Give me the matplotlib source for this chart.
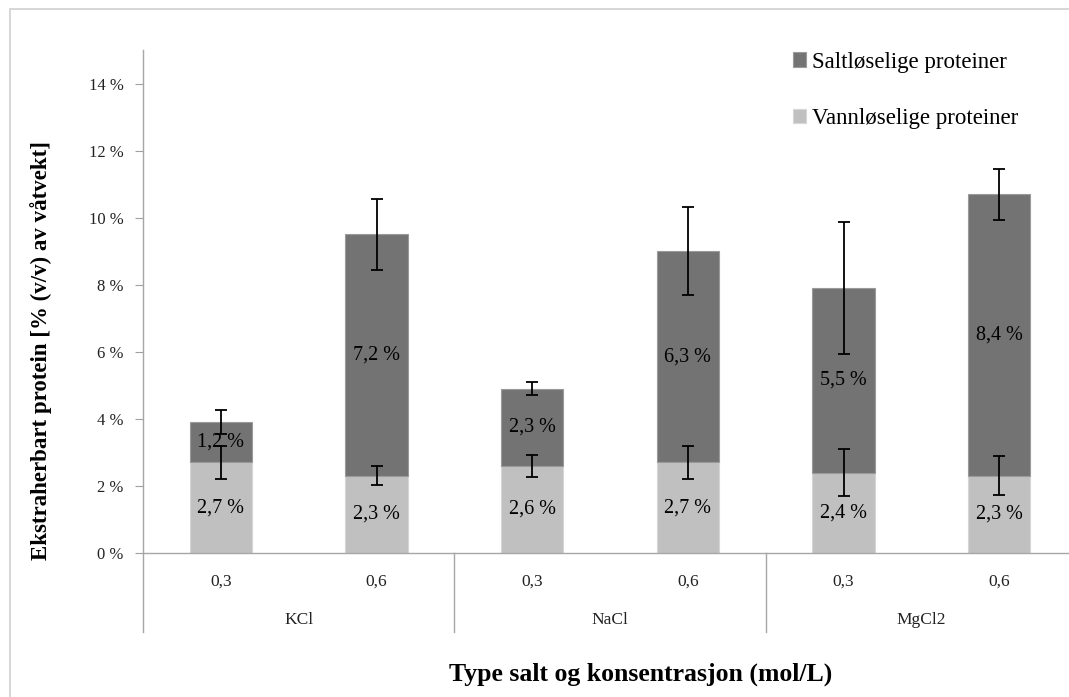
import matplotlib
matplotlib.use("Agg")
import matplotlib.pyplot as plt
from matplotlib.patches import Rectangle
import matplotlib.transforms as mtransforms

plt.rcParams['font.family'] = ['Liberation Serif', 'DejaVu Serif']

groups = ["KCl", "NaCl", "MgCl2"]
concentrations = ["0,3", "0,6"]
vann = [2.7, 2.3, 2.6, 2.7, 2.4, 2.3]
salt = [1.2, 7.2, 2.3, 6.3, 5.5, 8.4]
vann_err = [0.48, 0.28, 0.32, 0.49, 0.69, 0.58]
salt_err = [0.36, 1.07, 0.20, 1.32, 1.98, 0.76]
vann_labels = ["2,7 %", "2,3 %", "2,6 %", "2,7 %", "2,4 %", "2,3 %"]
salt_labels = ["1,2 %", "7,2 %", "2,3 %", "6,3 %", "5,5 %", "8,4 %"]
yticks = [0, 2, 4, 6, 8, 10, 12, 14]

W, H = 1069, 697
fig = plt.figure(figsize=(W / 100, H / 100), dpi=100)
fig.patch.set_facecolor("white")
# outer chart border
fig.patches.append(Rectangle((10 / W, -0.1), 1.2, (H - 9) / H + 0.1, transform=fig.transFigure,
                             fill=False, edgecolor="#d0d0d0", linewidth=1.2))

ax_left, ax_right, ax_top, ax_bottom = 143, 1077, 50, 553
ax = fig.add_axes([ax_left / W, (H - ax_bottom) / H, (ax_right - ax_left) / W, (ax_bottom - ax_top) / H])

x = list(range(len(vann)))
dark = "#737373"
light = "#c0c0c0"
ax.bar(x, vann, width=0.4, color=light, edgecolor="#d6d6d6", linewidth=0.8, label="Vannløselige proteiner", zorder=2)
ax.bar(x, salt, width=0.4, bottom=vann, color=dark, edgecolor="#9a9a9a", linewidth=0.8, label="Saltløselige proteiner", zorder=2)

tops = [v + s for v, s in zip(vann, salt)]
ax.errorbar(x, vann, yerr=vann_err, fmt="none", ecolor="black", elinewidth=1.3, capsize=4, capthick=1.3, zorder=4)
ax.errorbar(x, tops, yerr=salt_err, fmt="none", ecolor="black", elinewidth=1.3, capsize=4, capthick=1.3, zorder=4)

for xi, v, s, lv, ls in zip(x, vann, salt, vann_labels, salt_labels):
    ax.text(xi, v / 2, lv, ha="center", va="center", fontsize=14.5, color="black", zorder=5)
    ax.text(xi, v + s / 2, ls, ha="center", va="center", fontsize=14.5, color="black", zorder=5)

ax.set_xlim(-0.5, len(vann) - 0.5)
ax.set_ylim(0, 15)
ax.set_yticks(yticks)
ax.set_yticklabels([f"{t} %" for t in yticks], fontsize=12, color="#222222")
ax.set_xticks(x)
ax.set_xticklabels(concentrations * len(groups), fontsize=12.5, color="#222222")
ax.tick_params(axis="x", length=0, pad=15)
ax.tick_params(axis="y", length=6, color="#a0a0a0", pad=8)

for side in ["top", "right"]:
    ax.spines[side].set_visible(False)
for side in ["left", "bottom"]:
    ax.spines[side].set_color("#a6a6a6")
    ax.spines[side].set_linewidth(1.0)

trans = mtransforms.blended_transform_factory(ax.transData, ax.transAxes)
sep_depth = -(632 - ax_bottom) / (ax_bottom - ax_top)
for gi in range(len(groups) + 1):
    xs = gi * 2 - 0.5
    ax.plot([xs, xs], [0, sep_depth], transform=trans, color="#a6a6a6", lw=1.0, clip_on=False)
for gi, g in enumerate(groups):
    ax.text(gi * 2 + 0.5, -(620 - ax_bottom) / (ax_bottom - ax_top), g, transform=trans,
            ha="center", va="center", fontsize=12.5, color="#222222")

fig.text(641 / W, (H - 674) / H, "Type salt og konsentrasjon (mol/L)",
         ha="center", va="center", fontsize=18.5, fontweight="bold")
fig.text(41 / W, (H - 350) / H, "Ekstraherbart protein [% (v/v) av våtvekt]",
         ha="center", va="center", rotation=90, fontsize=16.5, fontweight="bold")

handles, labels = ax.get_legend_handles_labels()
leg = fig.legend(handles[::-1], labels[::-1], loc="upper left", bbox_to_anchor=(788 / W, (H - 47) / H),
                 frameon=False, fontsize=16.5, labelspacing=1.55, handlelength=0.6, handleheight=0.6,
                 handletextpad=0.25, borderaxespad=0, borderpad=0.2)

fig.savefig("out.png", dpi=100)
